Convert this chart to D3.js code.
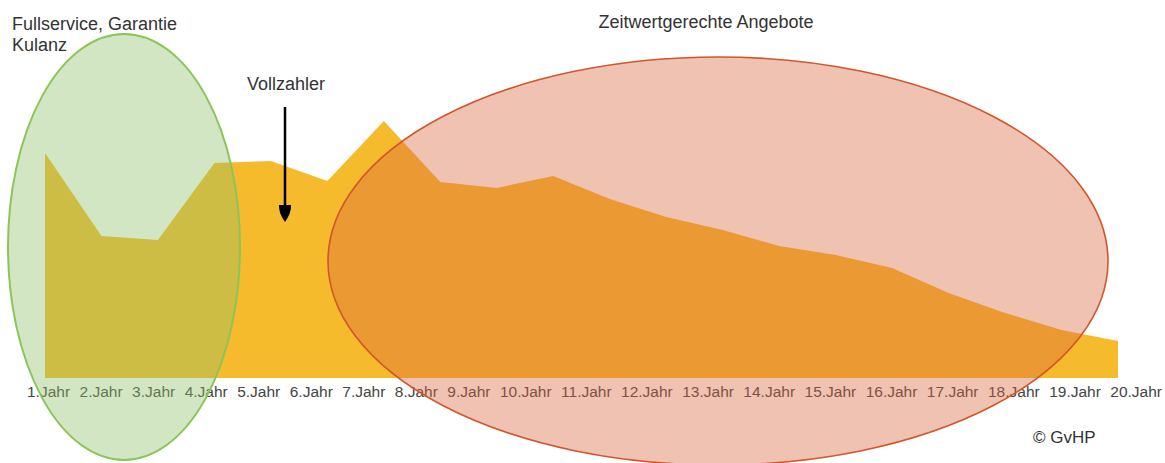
<!DOCTYPE html>
<html>
<head>
<meta charset="utf-8">
<script src="https://cdn.jsdelivr.net/npm/d3@7/dist/d3.min.js"></script>
<style>
  body { margin: 0; background: #fff; }
  svg { display: block; font-family: "Liberation Sans", Arial, sans-serif; }
  .label { fill: #333; font-size: 18px; }
  .copy { fill: #333; font-size: 17px; }
  .tick-label { fill: #444; font-size: 15.5px; }
</style>
</head>
<body>
<svg id="chart" width="1165" height="463"></svg>
<script>
// Data
var years = ["1.Jahr", "2.Jahr", "3.Jahr", "4.Jahr", "5.Jahr", "6.Jahr", "7.Jahr", "8.Jahr",
  "9.Jahr", "10.Jahr", "11.Jahr", "12.Jahr", "13.Jahr", "14.Jahr", "15.Jahr", "16.Jahr",
  "17.Jahr", "18.Jahr", "19.Jahr", "20.Jahr"];
var values = [86.5, 54.6, 53.1, 82.7, 83.5, 75.8, 98.8, 75.4, 73.1, 77.7,
  68.8, 61.9, 56.9, 50.8, 47.3, 42.3, 32.7, 25, 18.5, 14.2];

// Layout
var x_left = 45;
var x_right = 1118;
var y_base = 378;
var y_top = 118;

var svg = d3.select("#chart");

// Scales
var x_scale = d3.scalePoint()
    .domain(years)
    .range([x_left, x_right]);
var y_scale = d3.scaleLinear()
    .domain([0, 100])
    .range([y_base, y_top]);

// Area
var area = d3.area()
    .x((d, i) => x_scale(years[i]))
    .y0(y_scale(0))
    .y1(d => y_scale(d));
svg.append("path")
    .datum(values)
    .attr("fill", "#F5BB2C")
    .attr("d", area);

// Year labels, laid out in one row like running text
var label_group = svg.append("g").attr("id", "year-labels");
var labels = label_group.selectAll("text")
    .data(years)
    .enter()
    .append("text")
    .attr("class", "tick-label")
    .attr("y", 397)
    .text(d => d);
var widths = [];
labels.each(function() { widths.push(this.getComputedTextLength()); });
var lab_start = 27;
var lab_end = 1162;
var gap = (lab_end - lab_start - d3.sum(widths)) / (years.length - 1);
var pos = lab_start;
labels.attr("x", (d, i) => {
    var p = pos;
    pos += widths[i] + gap;
    return p;
});

// Arrow for "Vollzahler"
svg.append("line")
    .attr("x1", 285).attr("y1", 107)
    .attr("x2", 285).attr("y2", 206)
    .attr("stroke", "#000")
    .attr("stroke-width", 2.5);
svg.append("path")
    .attr("d", "M279,205 L291,205 C291,212 289,216 285,222 C281,216 279,212 279,205 Z")
    .attr("fill", "#000");

// Ellipses
svg.append("ellipse")
    .attr("cx", 124).attr("cy", 247)
    .attr("rx", 116).attr("ry", 213)
    .attr("fill", "#91C069")
    .attr("fill-opacity", 0.4)
    .attr("stroke", "#8CC45A")
    .attr("stroke-width", 2);
svg.append("ellipse")
    .attr("cx", 718).attr("cy", 261)
    .attr("rx", 390).attr("ry", 204)
    .attr("fill", "#D9663E")
    .attr("fill-opacity", 0.4)
    .attr("stroke", "#D2552C")
    .attr("stroke-width", 1.6);

// Text labels
svg.append("text")
    .attr("class", "label")
    .attr("x", 12).attr("y", 30)
    .text("Fullservice, Garantie");
svg.append("text")
    .attr("class", "label")
    .attr("x", 12).attr("y", 51)
    .text("Kulanz");
svg.append("text")
    .attr("class", "label")
    .attr("x", 247).attr("y", 90)
    .text("Vollzahler");
svg.append("text")
    .attr("class", "label")
    .attr("x", 706).attr("y", 28)
    .attr("text-anchor", "middle")
    .text("Zeitwertgerechte Angebote");
svg.append("text")
    .attr("class", "copy")
    .attr("x", 1033).attr("y", 443)
    .text("© GvHP");
</script>
</body>
</html>
